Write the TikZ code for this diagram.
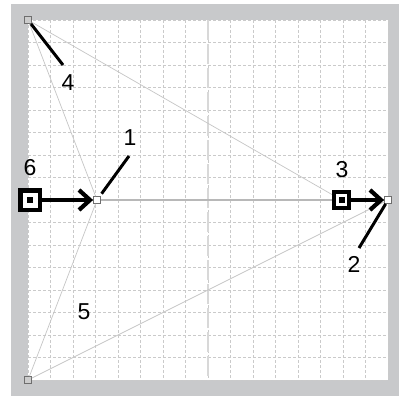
\documentclass[tikz,border=0pt]{standalone}
\usepackage{fontspec}
\setmainfont{Liberation Sans}
\usetikzlibrary{arrows.meta}
\definecolor{framegray}{HTML}{C8C9CB}
\definecolor{gridgray}{HTML}{CACACA}
\definecolor{axisgray}{HTML}{D8D8D8}
\definecolor{linegray}{HTML}{C6C6C6}
\definecolor{midgray}{HTML}{B8B8B8}
\definecolor{handlegray}{HTML}{6E6E6E}
\tikzset{
  gridline/.style={draw=gridgray,line width=0.8pt,dash pattern=on 3pt off 2pt},
  axisline/.style={draw=axisgray,line width=1.8pt,dash pattern=on 20pt off 4pt},
  thinline/.style={draw=linegray,line width=0.7pt},
  midline/.style={draw=midgray,line width=1.2pt},
  cornerpt/.style={draw=handlegray,fill=black!20,line width=0.8pt,minimum size=7pt,inner sep=0pt},
  anchorpt/.style={draw=handlegray,fill=white,line width=0.8pt,minimum size=7pt,inner sep=0pt},
  handlebox/.style={draw=black,fill=white,inner sep=0pt,
    path picture={\fill[black] (path picture bounding box.center) ++(-3pt,-3pt) rectangle ++(6pt,6pt);}},
  leader/.style={draw=black,line width=3pt},
  dragarrow/.style={draw=black,line width=4.2pt,-{Straight Barb[length=11pt,width=20pt]}},
  numlabel/.style={font=\fontsize{23}{23}\selectfont,inner sep=0pt}
}
\begin{document}
\begin{tikzpicture}[x=1pt,y=-1pt]
  \useasboundingbox (0,0) rectangle (399,396);
  % frame and grid
  \fill[framegray] (11,4) rectangle (399,396);
  \fill[white] (28,20) rectangle (388,380);
  \foreach \i in {0,...,16} {
    \draw[gridline] (28+22.5*\i,20) -- (28+22.5*\i,380);
    \draw[gridline] (28,20+22.5*\i) -- (388,20+22.5*\i);
  }
  \draw[axisline] (208,20) -- (208,380);

  % points
  \coordinate (c3) at (341.5,200);
  \node[cornerpt] (tl) at (28,20) {};
  \node[cornerpt] (bl) at (28,380) {};
  \node[anchorpt] (p1) at (97,200) {};
  \node[anchorpt] (p2) at (388,200) {};

  \draw[thinline] (tl) -- (p1);
  \draw[thinline] (bl) -- (p1);
  \draw[thinline] (tl) -- (c3);
  \draw[thinline] (bl) -- (p2);
  \draw[midline] (p1) -- (p2);

  % drag handles
  \node[handlebox,line width=4.5pt,minimum size=19.5pt] (h6) at (30,200) {};
  \node[handlebox,line width=4pt,minimum size=15.5pt] (h3) at (c3) {};
  \draw[dragarrow] (h6) -- (p1);
  \draw[dragarrow] (h3) -- (p2);

  % labels
  \coordinate (l1) at (129,156);
  \coordinate (l2) at (359,248);
  \coordinate (l4) at (63,65);
  \draw[leader,shorten <=3pt] (p1) -- (l1);
  \draw[leader] (p2) -- (l2);
  \draw[leader] (tl) -- (l4);
  \node[numlabel] (n1) at (130,138) {1};
  \node[numlabel] (n2) at (354,264) {2};
  \node[numlabel] (n3) at (342,170) {3};
  \node[numlabel] (n4) at (68,83) {4};
  \node[numlabel] (n5) at (84,312) {5};
  \node[numlabel] (n6) at (30,168) {6};
\end{tikzpicture}
\end{document}
